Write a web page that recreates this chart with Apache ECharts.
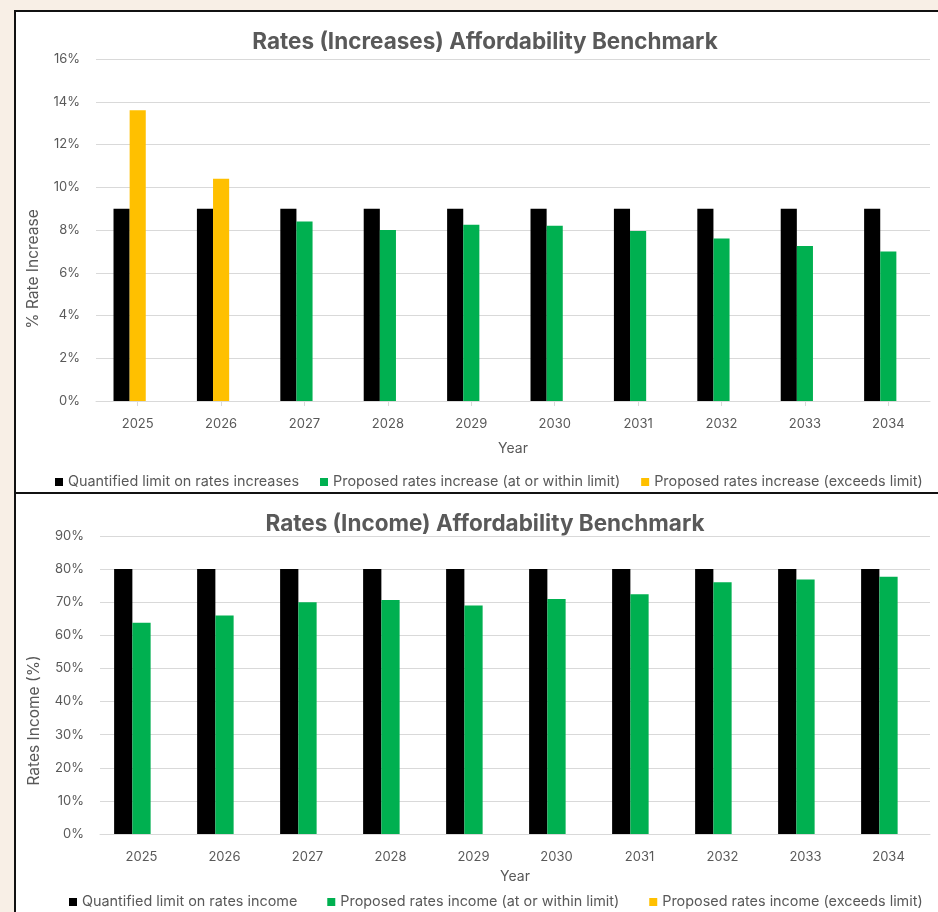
<!DOCTYPE html>
<html>
<head>
<meta charset="utf-8">
<script src="https://cdn.jsdelivr.net/npm/echarts@6/dist/echarts.min.js"></script>
<style>
  html, body { margin: 0; padding: 0; background: #f8efe6; }
  #frame {
    position: absolute; left: 14px; top: 10px; width: 940px; height: 920px;
    background: #fff; border: 2px solid #111; box-sizing: border-box;
  }
  #divider { position: absolute; left: 14px; top: 492px; width: 940px; height: 2px; background: #111; }
  #main { position: absolute; left: 0; top: 0; width: 938px; height: 912px; }
</style>
</head>
<body>
<div id="frame"></div>
<div id="divider"></div>
<div id="main"></div>
<script>
// categories
const years = ['2025', '2026', '2027', '2028', '2029', '2030', '2031', '2032', '2033', '2034']

// chart 1: rate increases (%)
const limitIncrease = [9, 9, 9, 9, 9, 9, 9, 9, 9, 9]
const increaseWithin = [null, null, 8.4, 8.0, 8.25, 8.2, 7.95, 7.6, 7.25, 7.0]
const increaseExceeds = [13.6, 10.4, null, null, null, null, null, null, null, null]

// chart 2: rates income (%)
const limitIncome = [80, 80, 80, 80, 80, 80, 80, 80, 80, 80]
const incomeWithin = [63.8, 66, 70, 70.7, 69, 71, 72.4, 76, 76.9, 77.7]
const incomeExceeds = [null, null, null, null, null, null, null, null, null, null]

const txt = '#595959'
const font = 'Inter'
const grid = '#d9d9d9'

const myChart = echarts.init(document.getElementById('main'))

function xAxisOf(idx, tick, nameGap) {
  return {
    type: 'category',
    gridIndex: idx,
    data: years,
    name: 'Year',
    nameLocation: 'middle',
    nameGap: nameGap,
    nameTextStyle: { color: txt, fontSize: 14, fontFamily: font },
    axisLine: { lineStyle: { color: grid } },
    axisTick: { show: tick, alignWithLabel: true, length: 5, lineStyle: { color: grid } },
    axisLabel: { color: txt, fontSize: 13, fontFamily: font, margin: 17 },
  }
}

function yAxisOf(idx, max, interval, name, nameGap, pad) {
  return {
    type: 'value',
    gridIndex: idx,
    min: 0,
    max: max,
    interval: interval,
    name: name,
    nameLocation: 'middle',
    nameGap: nameGap,
    nameTextStyle: { color: txt, fontSize: 15.5, fontFamily: font, padding: [0, pad, 0, 0] },
    axisLabel: { color: txt, fontSize: 13, fontFamily: font, margin: 16, formatter: '{value}%' },
    axisLine: { show: false },
    axisTick: { show: false },
    splitLine: { lineStyle: { color: grid, width: 1 } },
  }
}

function bar(name, data, color, idx, stack, gap) {
  return {
    name: name,
    type: 'bar',
    xAxisIndex: idx,
    yAxisIndex: idx,
    stack: stack,
    data: data,
    barGap: '0%',
    barCategoryGap: gap,
    itemStyle: { color: color },
  }
}

const legendText = { color: txt, fontSize: 14.4, fontFamily: font }

myChart.setOption({
  animation: false,
  title: [
    {
      text: 'Rates (Increases) Affordability Benchmark',
      left: 480, top: 26, textAlign: 'center',
      textStyle: { color: txt, fontSize: 22.5, fontWeight: 'bold', fontFamily: font },
    },
    {
      text: 'Rates (Income) Affordability Benchmark',
      left: 480, top: 508, textAlign: 'center',
      textStyle: { color: txt, fontSize: 22.5, fontWeight: 'bold', fontFamily: font },
    },
  ],
  legend: [
    {
      left: 50, top: 470, icon: 'rect', itemWidth: 8, itemHeight: 8, itemGap: 21,
      textStyle: legendText,
      data: ['Quantified limit on rates increases', 'Proposed rates increase (at or within limit)', 'Proposed rates increase (exceeds limit)'],
    },
    {
      left: 64, top: 890, icon: 'rect', itemWidth: 8, itemHeight: 8, itemGap: 30,
      textStyle: legendText,
      data: ['Quantified limit on rates income', 'Proposed rates income (at or within limit)', 'Proposed rates income (exceeds limit)'],
    },
  ],
  grid: [
    { left: 96, right: 8, top: 59, bottom: 511 },
    { left: 100, right: 8, top: 536, bottom: 78 },
  ],
  xAxis: [xAxisOf(0, true, 41), xAxisOf(1, false, 36)],
  yAxis: [
    yAxisOf(0, 16, 2, '% Rate Increase', 55, 78),
    yAxisOf(1, 90, 10, 'Rates Income (%)', 58, 71),
  ],
  series: [
    bar('Quantified limit on rates increases', limitIncrease, '#000000', 0, 'incLimit', '42%'),
    bar('Proposed rates increase (at or within limit)', increaseWithin, '#00b050', 0, 'incProposed', '42%'),
    bar('Proposed rates increase (exceeds limit)', increaseExceeds, '#ffc000', 0, 'incProposed', '42%'),
    // empty third slot, as in the original layout
    bar('', [], 'transparent', 0, 'incEmpty', '42%'),
    bar('Quantified limit on rates income', limitIncome, '#000000', 1, 'incomeLimit', '34%'),
    bar('Proposed rates income (at or within limit)', incomeWithin, '#00b050', 1, 'incomeProposed', '34%'),
    bar('Proposed rates income (exceeds limit)', incomeExceeds, '#ffc000', 1, 'incomeProposed', '34%'),
    bar('', [], 'transparent', 1, 'incomeEmpty', '34%'),
  ],
})
</script>
</body>
</html>
